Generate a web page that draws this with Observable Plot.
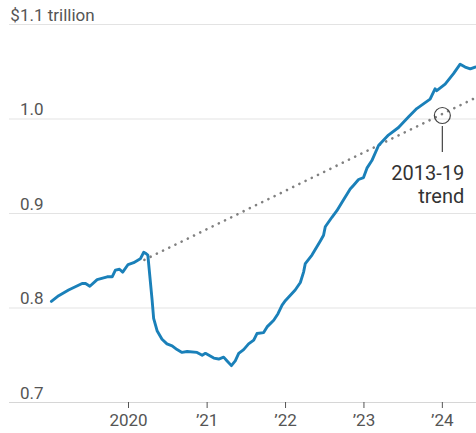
<!DOCTYPE html>
<html>
<head>
<meta charset="utf-8">
<script src="https://cdn.jsdelivr.net/npm/d3@7"></script>
<script src="https://cdn.jsdelivr.net/npm/@observablehq/plot@0.6"></script>
<style>
  html, body { margin: 0; padding: 0; background: #fff; }
  #chart svg { display: block; }
</style>
</head>
<body>
<div id="chart"></div>
<script>
// Main series (weekly): date, value in $ trillion
const dates = [
  "2019-01-07","2019-02-10","2019-03-28","2019-05-30","2019-06-15","2019-07-05","2019-08-08",
  "2019-09-24","2019-10-17","2019-11-01","2019-11-20","2019-12-05","2019-12-30","2020-01-25",
  "2020-02-25","2020-03-12","2020-03-20","2020-03-31",
  "2020-04-20","2020-04-27","2020-05-13","2020-06-05","2020-06-28","2020-07-22","2020-08-14",
  "2020-09-06","2020-09-30","2020-11-15","2020-12-09","2020-12-24","2021-02-01","2021-02-24",
  "2021-03-19","2021-04-04","2021-04-24","2021-05-12","2021-05-28","2021-06-20","2021-07-13",
  "2021-08-06","2021-08-21","2021-09-21","2021-10-07","2021-11-07","2021-11-27","2021-12-16",
  "2022-01-01","2022-02-15","2022-03-11","2022-03-26","2022-04-03","2022-05-04","2022-06-12",
  "2022-06-27","2022-07-05","2022-08-05","2022-08-28","2022-09-21","2022-10-29","2022-11-14",
  "2022-12-07","2022-12-30","2023-01-15","2023-02-07","2023-03-10","2023-04-25","2023-06-11",
  "2023-07-27","2023-09-04","2023-10-05","2023-11-05","2023-11-28","2023-12-06","2024-01-14",
  "2024-02-22","2024-03-24","2024-04-16","2024-05-10","2024-06-02"
];
const values = [
  0.807,0.813,0.819,0.826,0.826,0.823,0.830,
  0.833,0.833,0.840,0.841,0.838,0.846,0.848,
  0.852,0.859,0.858,0.856,
  0.808,0.789,0.776,0.767,0.762,0.760,0.756,
  0.753,0.754,0.753,0.750,0.752,0.747,0.746,
  0.748,0.744,0.739,0.744,0.752,0.756,0.762,
  0.766,0.773,0.774,0.780,0.787,0.794,0.803,
  0.808,0.819,0.827,0.838,0.847,0.856,0.871,
  0.877,0.886,0.896,0.903,0.912,0.926,0.930,
  0.936,0.938,0.948,0.956,0.972,0.983,0.991,
  1.002,1.011,1.016,1.021,1.032,1.030,1.037,
  1.048,1.058,1.055,1.053,1.055
];

// 2013-19 trend line (dotted)
const trendDates = ["2020-03-15", "2024-06-08"];
const trendValues = [0.851, 1.023];

// Annotation
const annoDate = ["2024-01-01"];
const annoCircleValue = [1.0037];
const annoRuleTop = [0.992];
const annoRuleBottom = [0.9646];
const annoTextDate = ["2024-04-12"];
const annoTextValue = [0.9534];
const annoText = ["2013-19\ntrend"];

// Axes
const yTicks = [0.7, 0.8, 0.9, 1.0, 1.1];
const yTickLabels = ["0.7", "0.8", "0.9", "1.0", "$1.1"];
const yUnit = " trillion";
const xTicks = ["2020-01-01", "2021-01-01", "2022-01-01", "2023-01-01", "2024-01-01"];
const xTickLabels = ["2020", "\u201921", "\u201922", "\u201923", "\u201924"];
const xDomain = ["2018-06-26", "2024-06-08"];

const parse = s => new Date(s + "T00:00:00Z");
const series = dates.map((d, i) => ({date: parse(d), value: values[i]}));
const trend = trendDates.map((d, i) => ({date: parse(d), value: trendValues[i]}));
const yTickData = yTicks.map((v, i) => ({v, label: yTickLabels[i]}));
const xTickDates = xTicks.map(parse);
const xLabelMap = new Map(xTickDates.map((d, i) => [+d, xTickLabels[i]]));

const chart = Plot.plot({
  width: 476,
  height: 433,
  marginLeft: 9,
  marginRight: 0,
  marginTop: 24,
  marginBottom: 31,
  style: {fontFamily: "Roboto, 'Open Sans', sans-serif", background: "#fff", color: "#444"},
  x: {type: "utc", domain: xDomain.map(parse), axis: null},
  y: {domain: [0.7, 1.1], axis: null},
  marks: [
    Plot.ruleY(yTicks.slice(1), {stroke: "#e3e3e3", strokeWidth: 1}),
    Plot.ruleY([yTicks[0]], {stroke: "#d6d6d6", strokeWidth: 1}),
    Plot.text(yTickData, {
      y: "v", text: "label", frameAnchor: "left", dx: 34, textAnchor: "end",
      lineAnchor: "bottom", dy: -4, fontSize: 17, fill: "#555"
    }),
    Plot.text([yTicks[yTicks.length - 1]], {
      y: d => d, text: () => yUnit, frameAnchor: "left", dx: 34, textAnchor: "start",
      lineAnchor: "bottom", dy: -4, fontSize: 17, fill: "#555"
    }),
    Plot.axisX({
      ticks: xTickDates,
      tickFormat: d => xLabelMap.get(+d),
      tickSize: 6,
      tickPadding: 5,
      fontSize: 17,
      stroke: "#555",
      fill: "#555",
      label: null
    }),
    Plot.line(trend, {
      x: "date", y: "value", stroke: "#808080", strokeWidth: 2.6,
      strokeDasharray: "0.1 6.8", strokeLinecap: "round"
    }),
    Plot.line(series, {
      x: "date", y: "value", stroke: "#1a80b9", strokeWidth: 2.9,
      strokeLinejoin: "round", strokeLinecap: "round", curve: "linear"
    }),
    Plot.dot(annoDate.map((d, i) => ({date: parse(d), value: annoCircleValue[i]})), {
      x: "date", y: "value", r: 8, stroke: "#444", strokeWidth: 1.2, fill: "none"
    }),
    Plot.ruleX(annoDate.map((d, i) => ({date: parse(d), y1: annoRuleTop[i], y2: annoRuleBottom[i]})), {
      x: "date", y1: "y1", y2: "y2", stroke: "#444", strokeWidth: 1.2
    }),
    Plot.text(annoTextDate.map((d, i) => ({date: parse(d), value: annoTextValue[i], t: annoText[i]})), {
      x: "date", y: "value", text: "t", textAnchor: "end", lineAnchor: "top",
      lineHeight: 1.17, fontSize: 20, fill: "#333"
    })
  ]
});
document.getElementById("chart").append(chart);
</script>
</body>
</html>
